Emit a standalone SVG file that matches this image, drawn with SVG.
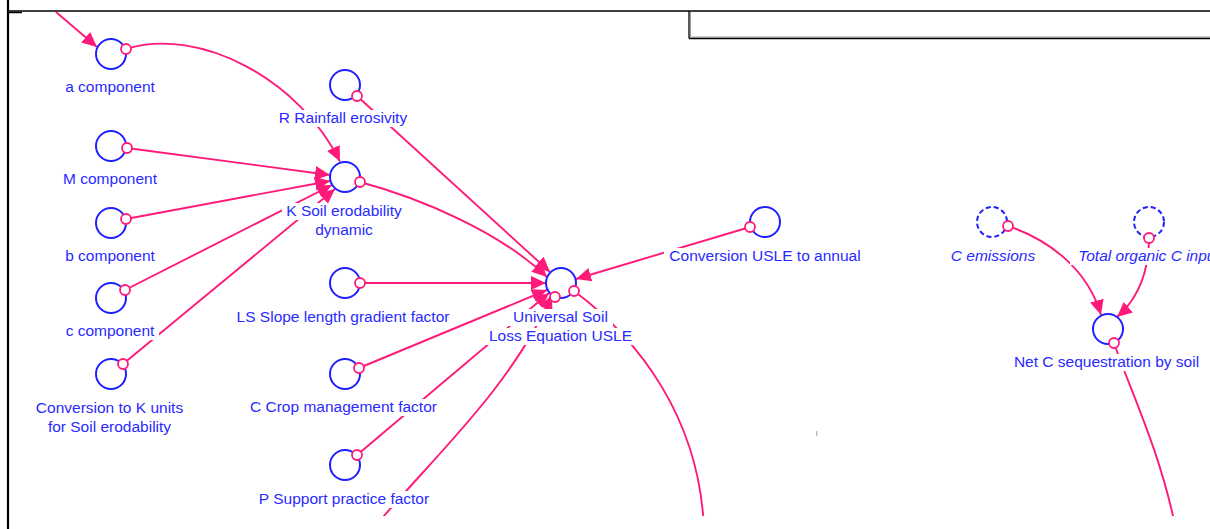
<svg xmlns="http://www.w3.org/2000/svg" width="1210" height="529" viewBox="0 0 1210 529">
  <style>
    .frame { stroke: #000; fill: none; }
    .node { fill: #fff; stroke: #1f1fff; stroke-width: 2; }
    .shadow { stroke-dasharray: 5 3; }
    .lbl { font-family: "Liberation Sans", Arial, sans-serif; font-size: 15.5px; fill: #2a2aff; text-anchor: middle; }
    .it { font-style: italic; }
    .bg { fill: #fff; }
    .link { fill: none; stroke: #ff1a7a; stroke-width: 1.9; marker-end: url(#arrow); }
    .tail { fill: #fff; stroke: #ff1a7a; stroke-width: 1.8; }
  </style>
  <defs>
    <marker id="arrow" markerUnits="userSpaceOnUse" markerWidth="16" markerHeight="14" refX="15" refY="7" orient="auto">
      <path d="M0,0 L15,7 L0,14 z" fill="#ff1a7a"/>
    </marker>
    <clipPath id="view">
      <rect x="0" y="12" width="1210" height="504"/>
    </clipPath>
  </defs>

  <rect width="1210" height="529" fill="#fff"/>

  <!-- window frame -->
  <g id="frame">
    <line class="frame" x1="8" y1="0" x2="8" y2="529" stroke-width="2.2"/>
    <line class="frame" x1="8" y1="11" x2="1210" y2="11" stroke-width="1.5"/>
    <line class="frame" x1="8" y1="12.5" x2="22" y2="12.5" stroke-width="1.5"/>
    <line x1="690.5" y1="12" x2="690.5" y2="37" stroke="#9a9a9a" stroke-width="1"/>
    <line x1="690" y1="37" x2="1210" y2="37" stroke="#9a9a9a" stroke-width="1"/>
    <line class="frame" x1="689" y1="11" x2="689" y2="38.5" stroke-width="1.3"/>
    <line class="frame" x1="689" y1="38.5" x2="1210" y2="38.5" stroke-width="1.3"/>
    <rect x="816" y="431" width="1.5" height="5" fill="#bdbdbd"/>
  </g>

  <!-- connectors -->
  <g id="connectors" clip-path="url(#view)">
    <path class="link" d="M56,12 L97,47"/>
    <path class="link" d="M126,49 C200,26 300,80 340,161.5"/>
    <path class="link" d="M127,148 L330,175"/>
    <path class="link" d="M126,219 L330,181"/>
    <path class="link" d="M125,290 L332,185"/>
    <path class="link" d="M123,364 L335,189"/>
    <path class="link" d="M357,96 L550,272"/>
    <path class="link" d="M360,182 C420,198 500,232 547,277"/>
    <path class="link" d="M360,283 L546,283"/>
    <path class="link" d="M359,368 L547,290"/>
    <path class="link" d="M357,455 L549,293"/>
    <path class="link" d="M372,530 C430,460 510,390 552,295"/>
    <path class="link" d="M750,227 L576,279"/>
    <path class="link" d="M574,291 C640,340 700,420 704,530" style="marker-end:none"/>
    <path class="link" d="M1008,226 C1050,240 1088,270 1101,315"/>
    <path class="link" d="M1149,242 C1148,270 1140,297 1117,317"/>
    <path class="link" d="M1114,343 C1130,390 1160,450 1176,530" style="marker-end:none"/>
  </g>

  <!-- nodes -->
  <g id="a-component">
    <circle class="node" cx="111" cy="54" r="15"/>
    <rect class="bg" x="61" y="79" width="98" height="17"/>
    <text class="lbl" x="110" y="92">a component</text>
  </g>
  <g id="r-rainfall">
    <circle class="node" cx="345" cy="85" r="15"/>
    <rect class="bg" x="275" y="110" width="137" height="17"/>
    <text class="lbl" x="343" y="123">R Rainfall erosivity</text>
  </g>
  <g id="m-component">
    <circle class="node" cx="111" cy="146" r="15"/>
    <rect class="bg" x="59" y="171" width="102" height="17"/>
    <text class="lbl" x="110" y="184">M component</text>
  </g>
  <g id="k-soil-erodability">
    <circle class="node" cx="345" cy="177" r="15"/>
    <rect class="bg" x="282" y="203" width="124" height="17"/>
    <rect class="bg" x="311" y="222" width="66" height="17"/>
    <text class="lbl" x="344" y="216">K Soil erodability</text>
    <text class="lbl" x="344" y="235">dynamic</text>
  </g>
  <g id="b-component">
    <circle class="node" cx="111" cy="223" r="15"/>
    <rect class="bg" x="61" y="248" width="98" height="17"/>
    <text class="lbl" x="110" y="261">b component</text>
  </g>
  <g id="c-component">
    <circle class="node" cx="111" cy="298" r="15"/>
    <rect class="bg" x="61" y="323" width="98" height="17"/>
    <text class="lbl" x="110" y="336">c component</text>
  </g>
  <g id="conversion-k-units">
    <circle class="node" cx="111" cy="374" r="15"/>
    <rect class="bg" x="31" y="400" width="157" height="17"/>
    <rect class="bg" x="43" y="419" width="133" height="17"/>
    <text class="lbl" x="109.5" y="413">Conversion to K units</text>
    <text class="lbl" x="109.5" y="432">for Soil erodability</text>
  </g>
  <g id="ls-slope">
    <circle class="node" cx="345" cy="283" r="15"/>
    <rect class="bg" x="230" y="309" width="226" height="17"/>
    <text class="lbl" x="343" y="322">LS Slope length gradient factor</text>
  </g>
  <g id="c-crop">
    <circle class="node" cx="345" cy="374" r="15"/>
    <rect class="bg" x="244" y="399" width="199" height="17"/>
    <text class="lbl" x="343.5" y="412">C Crop management factor</text>
  </g>
  <g id="p-support">
    <circle class="node" cx="345" cy="465" r="15"/>
    <rect class="bg" x="252" y="491" width="183" height="17"/>
    <text class="lbl" x="344" y="504">P Support practice factor</text>
  </g>
  <g id="usle">
    <circle class="node" cx="561" cy="283" r="15"/>
    <rect class="bg" x="508" y="309" width="105" height="17"/>
    <rect class="bg" x="484" y="328" width="153" height="17"/>
    <text class="lbl" x="560.5" y="322">Universal Soil</text>
    <text class="lbl" x="560.5" y="341">Loss Equation USLE</text>
  </g>
  <g id="conversion-usle-annual">
    <circle class="node" cx="765" cy="222" r="15"/>
    <rect class="bg" x="664" y="248" width="202" height="17"/>
    <text class="lbl" x="765" y="261">Conversion USLE to annual</text>
  </g>
  <g id="c-emissions">
    <circle class="node shadow" cx="992" cy="222" r="15"/>
    <rect class="bg" x="946" y="248" width="94" height="17"/>
    <text class="lbl it" x="993" y="261">C emissions</text>
  </g>
  <g id="total-organic-c-input">
    <circle class="node shadow" cx="1149" cy="222" r="15"/>
    <rect class="bg" x="1070" y="248" width="160" height="17"/>
    <text class="lbl it" x="1149" y="261">Total organic C input</text>
  </g>
  <g id="net-c-sequestration">
    <circle class="node" cx="1108" cy="329" r="15"/>
    <rect class="bg" x="1009" y="354" width="196" height="17"/>
    <text class="lbl" x="1106.5" y="367">Net C sequestration by soil</text>
  </g>

  <!-- link tails -->
  <g id="link-tails">
    <circle class="tail" cx="126" cy="49" r="5"/>
    <circle class="tail" cx="357" cy="96" r="5"/>
    <circle class="tail" cx="127" cy="148" r="5"/>
    <circle class="tail" cx="360" cy="182" r="5"/>
    <circle class="tail" cx="126" cy="219" r="5"/>
    <circle class="tail" cx="125" cy="290" r="5"/>
    <circle class="tail" cx="123" cy="364" r="5"/>
    <circle class="tail" cx="360" cy="283" r="5"/>
    <circle class="tail" cx="359" cy="368" r="5"/>
    <circle class="tail" cx="357" cy="455" r="5"/>
    <circle class="tail" cx="555" cy="297" r="5"/>
    <circle class="tail" cx="574" cy="291" r="5"/>
    <circle class="tail" cx="750" cy="227" r="5"/>
    <circle class="tail" cx="1008" cy="226" r="5"/>
    <circle class="tail" cx="1149" cy="238" r="5"/>
    <circle class="tail" cx="1114" cy="343" r="5"/>
  </g>
</svg>
